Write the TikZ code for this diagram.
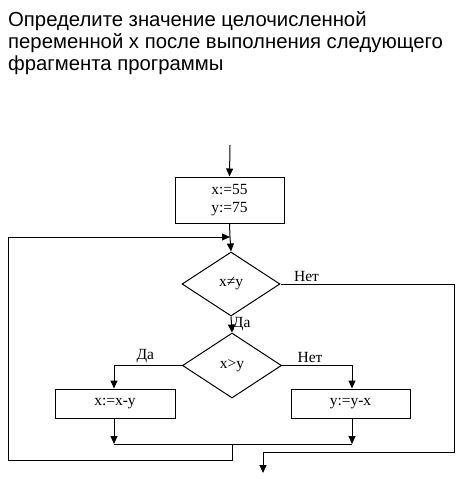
\documentclass[tikz,border=0pt]{standalone}
\usepackage{fontspec}
\setmainfont{Liberation Serif}
\newfontfamily\titlefont{Liberation Sans}
\usetikzlibrary{shapes.geometric,arrows.meta}
\tikzset{
  ln/.style={line width=1pt},
  arr/.style={ln,-{Triangle[length=8pt,width=7pt]}},
  fc/.style={font=\fontsize{15.5}{18}\selectfont},
  block/.style={draw,ln,rectangle,inner sep=0pt,fc},
  cond/.style={draw,ln,diamond,inner sep=0pt,fc},
  lbl/.style={inner sep=0pt,fc},
  ttl/.style={inner sep=0pt,anchor=base west,font=\titlefont\fontsize{20.3}{22}\selectfont}
}
\begin{document}
\begin{tikzpicture}[x=1pt,y=-1pt]
\useasboundingbox[fill=white] (0,0) rectangle (467,481);
\node[ttl] (t1) at (8,27) {Определите значение целочисленной};
\node[ttl] (t2) at (8,49) {переменной х после выполнения следующего};
\node[ttl] (t3) at (8,71) {фрагмента программы};

\coordinate (start) at (230,145);
\node[block,minimum width=109pt,minimum height=46pt,align=center] (b1) at (229.5,200) {x:=55\\[0pt]y:=75};
\node[cond,minimum width=98pt,minimum height=64pt] (d1) at (231,284) {x≠y};
\node[cond,minimum width=99pt,minimum height=65pt] (d2) at (232,365.5) {x>y};
\node[block,minimum width=120pt,minimum height=29pt] (bl) at (115,403.5) {x:=x-y};
\node[block,minimum width=119pt,minimum height=29pt] (br) at (350.5,403.5) {y:=y-x};

\coordinate (j1) at (230,237);
\coordinate (lL) at (114,444);
\coordinate (lR) at (352,444);
\coordinate (m) at (232,444);
\coordinate (e) at (263,473);

\draw[arr] (start) -- (b1.north);
\draw[ln] (b1.south) -- (j1);
\draw[arr] (j1) -- (d1.north);
\draw[arr] (d1.south) -- node[lbl,right,pos=0.45,xshift=1pt]{Да} (d2.north);
\draw[arr] (d2.west) -| node[lbl,above,pos=0.27,yshift=2pt]{Да} (bl.north -| lL);
\draw[arr] (d2.east) -| node[lbl,above,pos=0.2,yshift=2pt]{Нет} (br.north -| lR);
\draw[arr] (bl.south -| lL) -- (lL);
\draw[arr] (br.south -| lR) -- (lR);
\draw[ln] (lL) -- (lR);
\draw[arr] (m) -- (232,460) -- (8,460) -- (8,237) -- (j1);
\draw[arr] (d1.east) -- node[lbl,above,pos=0.15,yshift=2pt]{Нет} (454,284) -- (454,452) -- (263,452) -- (e);
\end{tikzpicture}
\end{document}
